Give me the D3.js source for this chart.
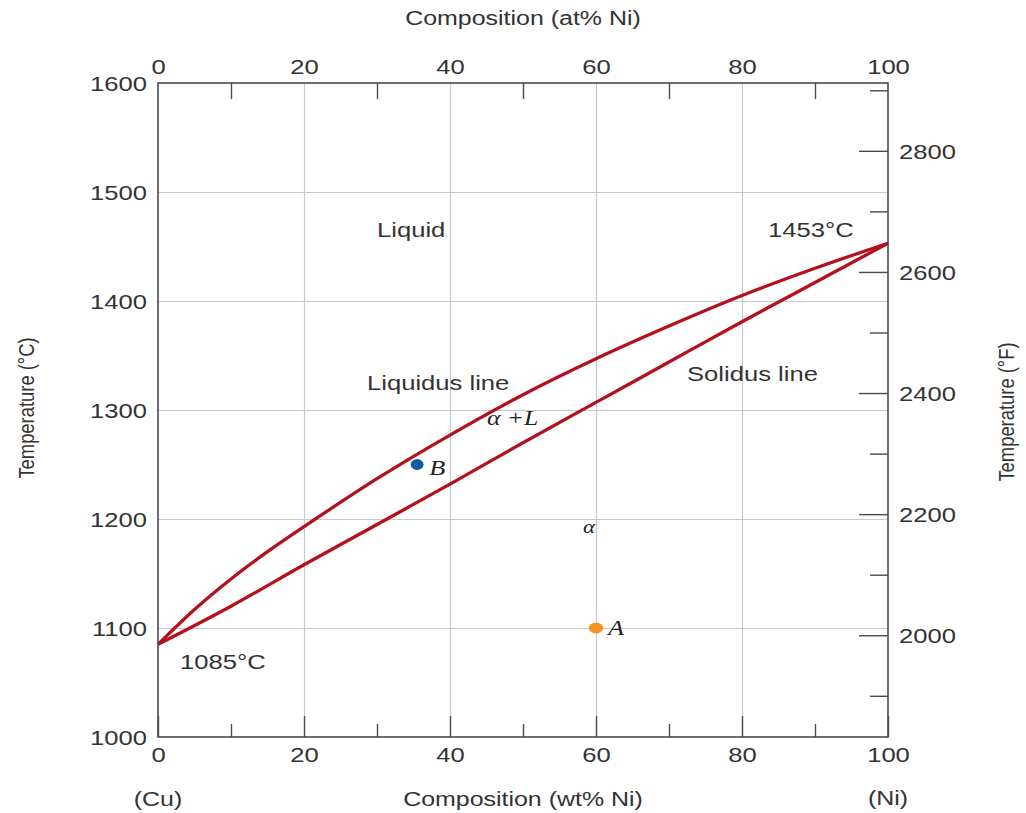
<!DOCTYPE html>
<html>
<head>
<meta charset="utf-8">
<script src="https://cdn.jsdelivr.net/npm/d3@7/dist/d3.min.js"></script>
<style>
  html, body { margin: 0; padding: 0; background: #fff; }
  svg { display: block; }
</style>
</head>
<body>
<svg id="chart" width="1026" height="813"></svg>
<script>
// Cu–Ni binary phase diagram (wt% Ni vs temperature)

// Liquidus line: [wt% Ni, °C]
const liquidus = [
  [0, 1085], [5, 1117], [10, 1145], [15, 1170], [20, 1193],
  [30, 1237], [40, 1277], [50, 1314], [60, 1347], [70, 1377], [80, 1405],
  [90, 1430], [100, 1453]
];

// Solidus line: [wt% Ni, °C]
const solidus = [
  [0, 1085], [10, 1120], [20, 1158], [30, 1195], [40, 1232],
  [50, 1270], [60, 1307], [70, 1344], [80, 1381], [90, 1417], [100, 1453]
];

// Marked alloy states
const points = [
  { name: "B", ni: 35.5, t: 1250, color: "#0d5ca6" },
  { name: "A", ni: 60, t: 1100, color: "#f7941d" }
];

// Tick values
const compTicks = [0, 20, 40, 60, 80, 100];
const compMinor = [10, 30, 50, 70, 90];
const tempCTicks = [1000, 1100, 1200, 1300, 1400, 1500, 1600];
const tempFTicks = [2000, 2200, 2400, 2600, 2800];
const tempFMinor = [1900, 2100, 2300, 2500, 2700, 2900];

const cToF = c => c * 9 / 5 + 32;

const svg = d3.select("#chart");
const PL = 158, PR = 888, PT = 83, PB = 737;
const SX = 1.28;           // horizontal stretch of text glyphs
const FONT = "'Liberation Sans', Arial, sans-serif";
const SERIF = "'Liberation Serif', 'Times New Roman', serif";
const TXT = "#333";
const AX = "#4a4a4a";
const GRID = "#c9c9c9";
const fmt = d3.format("d");

const x = d3.scaleLinear().domain([0, 100]).range([PL, PR]);
const y = d3.scaleLinear().domain([1000, 1600]).range([PB, PT]);
const yF = d3.scaleLinear().domain([cToF(1000), cToF(1600)]).range([PB, PT]);

function stretchAxisText(g, sx) {
  g.selectAll("text").each(function () {
    const t = d3.select(this);
    t.attr("transform", `scale(${sx},1)`).attr("x", (+t.attr("x") || 0) / sx);
  });
}

function styleAxis(g, color) {
  g.attr("font-family", FONT).attr("font-size", 20);
  g.selectAll("line").attr("stroke", color).attr("stroke-width", 1.4);
  g.selectAll("text").attr("fill", TXT);
  g.select(".domain").remove();
}

// Gridlines
const gridX = svg.append("g").attr("transform", `translate(0,${PB})`)
  .call(d3.axisBottom(x).tickValues([20, 40, 60, 80]).tickSize(-(PB - PT)).tickFormat(""));
styleAxis(gridX, GRID);
gridX.selectAll("line").attr("stroke-width", 1.2);

const gridY = svg.append("g").attr("transform", `translate(${PL},0)`)
  .call(d3.axisLeft(y).tickValues([1100, 1200, 1300, 1400, 1500]).tickSize(-(PR - PL)).tickFormat(""));
styleAxis(gridY, GRID);
gridY.selectAll("line").attr("stroke-width", 1.2);

// Phase boundaries
const boundary = d3.line().x(d => x(d[0])).y(d => y(d[1])).curve(d3.curveCatmullRom.alpha(0.5));
[liquidus, solidus].forEach(data => {
  svg.append("path").datum(data)
    .attr("d", boundary)
    .attr("fill", "none")
    .attr("stroke", "#b3121d")
    .attr("stroke-width", 3.3)
    .attr("stroke-linejoin", "round");
});

// Frame
svg.append("rect").attr("x", PL).attr("y", PT).attr("width", PR - PL).attr("height", PB - PT)
  .attr("fill", "none").attr("stroke", AX).attr("stroke-width", 1.6);

// Bottom axis (wt% Ni)
const axBottom = svg.append("g").attr("transform", `translate(0,${PB})`)
  .call(d3.axisBottom(x).tickValues(compTicks).tickFormat(fmt).tickSizeInner(-21).tickSizeOuter(0));
styleAxis(axBottom, AX);
axBottom.selectAll("text").attr("y", 25).attr("dy", 0);
stretchAxisText(axBottom, SX);

const axBottomMinor = svg.append("g").attr("transform", `translate(0,${PB})`)
  .call(d3.axisBottom(x).tickValues(compMinor).tickSizeInner(-13).tickSizeOuter(0).tickFormat(""));
styleAxis(axBottomMinor, AX);

// Top axis (at% Ni)
const axTop = svg.append("g").attr("transform", `translate(0,${PT})`)
  .call(d3.axisTop(x).tickValues(compTicks).tickFormat(fmt).tickSizeInner(0).tickSizeOuter(0));
styleAxis(axTop, AX);
axTop.selectAll("text").attr("y", -9.5).attr("dy", 0);
stretchAxisText(axTop, SX);

const axTopMinor = svg.append("g").attr("transform", `translate(0,${PT})`)
  .call(d3.axisTop(x).tickValues(compMinor).tickSizeInner(-16).tickSizeOuter(0).tickFormat(""));
styleAxis(axTopMinor, AX);

// Left axis (°C)
const axLeft = svg.append("g").attr("transform", `translate(${PL},0)`)
  .call(d3.axisLeft(y).tickValues(tempCTicks).tickFormat(fmt).tickSizeInner(0).tickSizeOuter(0));
styleAxis(axLeft, AX);
axLeft.selectAll("text").attr("x", -11).attr("dy", "0.36em");
stretchAxisText(axLeft, SX);

// Right axis (°F)
const axRight = svg.append("g").attr("transform", `translate(${PR},0)`)
  .call(d3.axisRight(yF).tickValues(tempFTicks).tickFormat(fmt).tickSizeInner(-29).tickSizeOuter(0));
styleAxis(axRight, AX);
axRight.selectAll("text").attr("x", 11).attr("dy", "0.36em");
stretchAxisText(axRight, SX);

const axRightMinor = svg.append("g").attr("transform", `translate(${PR},0)`)
  .call(d3.axisRight(yF).tickValues(tempFMinor).tickSizeInner(-18).tickSizeOuter(0).tickFormat(""));
styleAxis(axRightMinor, AX);

// Text helper with horizontal glyph stretch
function label(px, py, text, o = {}) {
  const sx = o.sx || SX;
  const rot = o.rotate ? ` rotate(${o.rotate})` : "";
  return svg.append("text")
    .attr("transform", `translate(${px},${py}) scale(${sx},1)${rot}`)
    .attr("font-family", o.family || FONT)
    .attr("font-size", o.size || 20)
    .attr("font-style", o.style || "normal")
    .attr("text-anchor", o.anchor || "start")
    .attr("fill", o.fill || TXT)
    .text(text);
}

// Axis titles
label((PL + PR) / 2, 25, "Composition (at% Ni)", { anchor: "middle", size: 19.5 });
label((PL + PR) / 2, 806, "Composition (wt% Ni)", { anchor: "middle", size: 19.5 });
label(x(0), 806, "(Cu)", { anchor: "middle", size: 19.5 });
label(x(100), 805, "(Ni)", { anchor: "middle", size: 19.5 });
label(34, 408, "Temperature (°C)", { anchor: "middle", size: 18.4, sx: 1.15, rotate: -90 });
label(1014, 412, "Temperature (°F)", { anchor: "middle", size: 18.4, sx: 1.15, rotate: -90 });

// Region and line labels
label(377, 237, "Liquid", { size: 20 });
label(768, 237, "1453°C", { size: 20 });
label(367, 390, "Liquidus line", { size: 20 });
label(687, 381, "Solidus line", { size: 20 });
label(180, 669, "1085°C", { size: 20 });
label(487, 425, "α +L", { family: SERIF, style: "italic", size: 21, sx: 1.22, fill: "#222" });
label(583, 533, "α", { family: SERIF, style: "italic", size: 19, sx: 1.2, fill: "#222" });

// Alloy points
points.forEach(p => {
  svg.append("ellipse")
    .attr("cx", x(p.ni)).attr("cy", y(p.t))
    .attr("rx", p.name === "A" ? 7.2 : 6.4).attr("ry", 5.4)
    .attr("fill", p.color);
  label(x(p.ni) + 12, y(p.t) + (p.name === "A" ? 7 : 10), p.name,
    { family: SERIF, style: "italic", size: 21, sx: 1.25, fill: "#222" });
});
</script>
</body>
</html>
